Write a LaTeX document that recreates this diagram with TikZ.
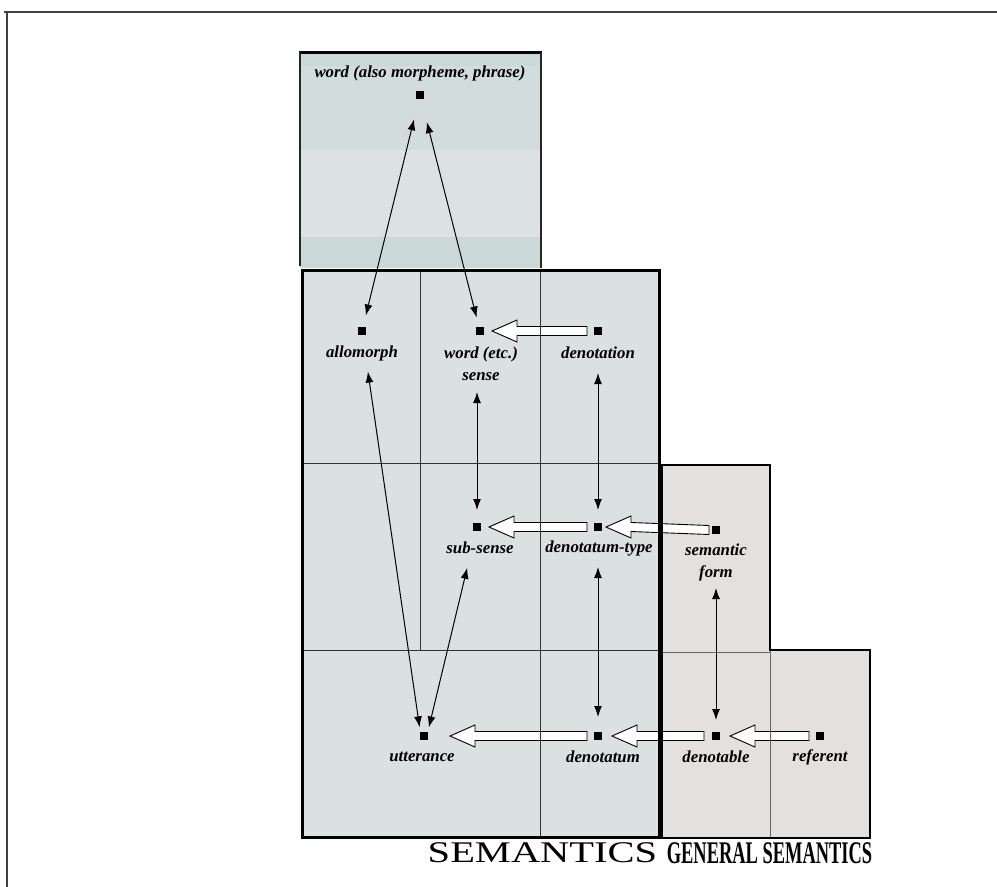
\documentclass[tikz,border=0pt]{standalone}
\usepackage{fontspec}
\setmainfont{Liberation Serif}
\usetikzlibrary{arrows.meta,calc}
\definecolor{wordA}{HTML}{CAD8D8}
\definecolor{wordB}{HTML}{D3DCDC}
\definecolor{wordC}{HTML}{DCE1E1}
\definecolor{semfill}{HTML}{DBE0E0}
\definecolor{genfill}{HTML}{E4E0E0}
\newcommand{\fatarrow}[4]{%
  \draw[fatstyle] let \p1=(#1.center), \p2=(#2.center) in
   (\x1-#3pt,\y1+4.5pt) -- (\x2+#4pt+25pt,\y2+4.5pt) -- (\x2+#4pt+25pt,\y2+11pt) --
   (\x2+#4pt,\y2) -- (\x2+#4pt+25pt,\y2-11pt) -- (\x2+#4pt+25pt,\y2-4.5pt) --
   (\x1-#3pt,\y1-4.5pt) -- cycle;}
\begin{document}
\begin{tikzpicture}[x=1pt,y=-1pt,
  sq/.style={fill=black,inner sep=0pt,minimum size=7pt},
  lab/.style={font=\fontsize{16.8}{22}\selectfont\bfseries\itshape,align=center,inner sep=0pt},
  dblarrow/.style={line width=1pt,{Latex[length=11pt,width=8pt]}-{Latex[length=11pt,width=8pt]}},
  fatstyle/.style={draw=black,line width=0.9pt,fill=white,line join=miter},
  gridline/.style={line width=1pt,draw=black!80},
  framerule/.style={line width=2pt,draw=black!75},
]
\useasboundingbox (0,0) rectangle (997,887);
% outer frame
\draw[framerule] (4,12) -- (997,12);
\draw[framerule] (7,12) -- (7,887);

% word box
\fill[wordB] (300,52) rectangle (541,268);
\fill[wordA] (300,52) rectangle (541,66);
\fill[wordC] (300,150) rectangle (541,237);
\fill[wordA] (300,237) rectangle (541,268);

% semantics box fill
\fill[semfill] (302,270) rectangle (659,837);
% general semantics fill
\fill[genfill] (662,465) -- (770,465) -- (770,650) -- (870,650) -- (870,838) -- (662,838) -- cycle;

% squares
\node[sq] (word)  at (420,95) {};
\node[sq] (allo)  at (362,331) {};
\node[sq] (ws)    at (480,331) {};
\node[sq] (den)   at (598,331) {};
\node[sq] (subs)  at (477,527) {};
\node[sq] (dtype) at (598,527) {};
\node[sq] (sform) at (716,530) {};
\node[sq] (utt)   at (424,736) {};
\node[sq] (dtm)   at (598,736) {};
\node[sq] (dble)  at (716,736) {};
\node[sq] (ref)   at (820,736) {};

% fat arrows
\fatarrow{den}{ws}{11}{12}
\fatarrow{dtype}{subs}{11}{12}
\fatarrow{sform}{dtype}{7}{8}
\fatarrow{dtm}{utt}{11}{26}
\fatarrow{dble}{dtm}{12}{14}
\fatarrow{ref}{dble}{11}{14}

% word box borders
\draw[line width=3pt] (299,52) -- (542,52);
\draw[line width=1.8pt,draw=black!85] (300,52) -- (300,266);
\draw[line width=1.8pt,draw=black!85] (541,52) -- (541,268);

% semantics grid
\draw[gridline] (420,270) -- (420,650);
\draw[gridline] (540,270) -- (540,837);
\draw[gridline] (302,463) -- (659,463);
\draw[gridline] (302,650) -- (659,650);
\draw[line width=3pt] (302,270) rectangle (659,837);

% general semantics grid
\draw[gridline,draw=black!60] (662,652) -- (770,652);
\draw[gridline,draw=black!60] (770,650) -- (770,838);
\draw[line width=2.5pt] (662,465) -- (770,465) -- (770,650) -- (870,650) -- (870,838) -- (662,838) -- cycle;

% redraw squares on top
\foreach \n in {word,allo,ws,den,subs,dtype,sform,utt,dtm,dble,ref}{\fill (\n.south west) rectangle (\n.north east);}

% labels
\node[lab] (l-word)  at (420,73)  {word (also morpheme, phrase)};
\node[lab] (l-allo)  at (362,353) {allomorph};
\node[lab] (l-ws)    at (481,364) {word (etc.)\\sense};
\node[lab] (l-den)   at (598,353) {denotation};
\node[lab] (l-subs)  at (480,548) {sub-sense};
\node[lab] (l-dtype) at (599,548) {denotatum-type};
\node[lab] (l-sform) at (716,562) {semantic\\form};
\node[lab] (l-utt)   at (422,757) {utterance};
\node[lab] (l-dtm)   at (603,757) {denotatum};
\node[lab] (l-dble)  at (716,757) {denotable};
\node[lab] (l-ref)   at (820,757) {referent};

% thin double arrows
\draw[dblarrow,shorten <=25pt,shorten >=16pt] (word.center) -- (allo.center);
\draw[dblarrow,shorten <=28pt,shorten >=14pt] (word.center) -- (ws.center);
\draw[dblarrow,shorten <=41pt,shorten >=5pt] (allo.center) -- (utt.north west);
\draw[dblarrow,shorten <=42pt,shorten >=5pt] (subs.center) -- (utt.north east);
\draw[dblarrow,shorten <=61pt,shorten >=17pt] (ws -| subs) -- (subs.center);
\draw[dblarrow,shorten <=42pt,shorten >=17pt] (den.center) -- (dtype.center);
\draw[dblarrow,shorten <=40pt,shorten >=19pt] (dtype.center) -- (dtm.center);
\draw[dblarrow,shorten <=58pt,shorten >=16pt] (sform.center) -- (dble.center);

% bottom titles
\node[inner sep=0pt] (t-sem) at (542.5,853) {\fontsize{30}{30}\selectfont\scalebox{1.35}[1]{SEMANTICS}};
\node[inner sep=0pt] (t-gen) at (769.5,853.5) {\fontsize{31.5}{31.5}\selectfont\bfseries\scalebox{0.585}[1]{GENERAL SEMANTICS}};
\end{tikzpicture}
\end{document}
